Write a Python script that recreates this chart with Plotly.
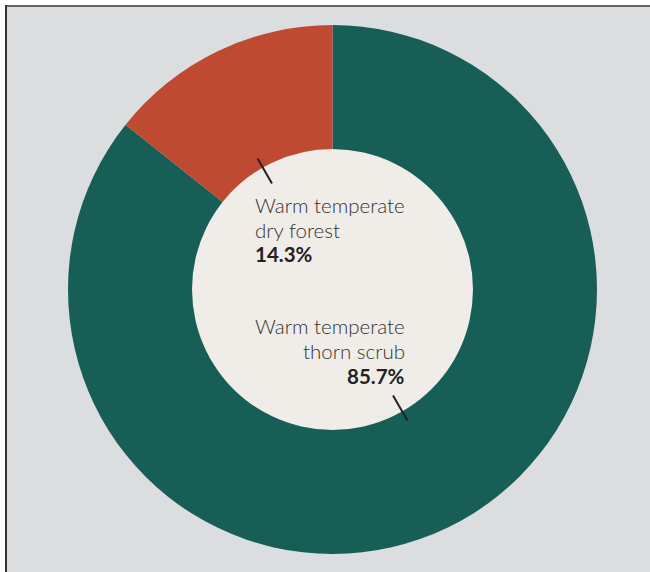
import math
import plotly.graph_objects as go

categories = ["Warm temperate dry forest", "Warm temperate thorn scrub"]
label_lines = [["Warm temperate", "dry forest"], ["Warm temperate", "thorn scrub"]]
values = [14.3, 85.7]
colors = ["#bd4a31", "#175e57"]

W, H = 650, 572
CX, CY, R = 332.5, 289.5, 264.5
HOLE = 140.5 / 264.5

def px(x):
    return x / W

def py(y):
    return 1 - y / H

fig = go.Figure()
# drawn clockwise starting at 12 o'clock with thorn scrub first, so dry forest
# sits just left of 12 o'clock as in the reference
fig.add_trace(go.Pie(
    labels=categories[::-1], values=values[::-1], sort=False, direction="clockwise",
    rotation=0, hole=HOLE, marker=dict(colors=colors[::-1], line=dict(width=0)),
    textinfo="none", hoverinfo="label+percent", showlegend=False,
    domain=dict(x=[px(CX - R), px(CX + R)], y=[py(CY + R), py(CY - R)]),
))

shapes = [
    dict(type="rect", xref="paper", yref="paper", x0=0, x1=px(5), y0=0, y1=1,
         fillcolor="white", line=dict(width=0), layer="below"),
    dict(type="rect", xref="paper", yref="paper", x0=0, x1=1, y0=py(5), y1=1,
         fillcolor="white", line=dict(width=0), layer="below"),
    dict(type="line", xref="paper", yref="paper", x0=px(5), x1=1, y0=py(6), y1=py(6),
         line=dict(color="#666466", width=2), layer="below"),
    dict(type="line", xref="paper", yref="paper", x0=px(6), x1=px(6), y0=0, y1=py(5),
         line=dict(color="#333333", width=2), layer="below"),
    dict(type="circle", xref="paper", yref="paper",
         x0=px(CX - 140.5), x1=px(CX + 140.5), y0=py(CY + 140.5), y1=py(CY - 140.5),
         fillcolor="#f0ede8", line=dict(width=0), layer="below"),
]

# leader lines at slice mid-angles (counterclockwise from 12 o'clock)
total = sum(values)
start = 0.0
for v in values:
    frac = v / total
    mid = (start + frac / 2) * 2 * math.pi + math.radians(4)
    start += frac
    dx, dy = -math.sin(mid), -math.cos(mid)
    r0, r1 = 122, 151
    shapes.append(dict(type="line", xref="paper", yref="paper",
                       x0=px(CX + dx * r0), y0=py(CY + dy * r0),
                       x1=px(CX + dx * r1), y1=py(CY + dy * r1),
                       line=dict(color="#222222", width=2), layer="above"))

annotations = []
FS = 20.5
specs = [(253, "left", [205, 229.5, 254]), (407, "right", [326, 351, 376])]
for i, (xa, anchor, ys) in enumerate(specs):
    texts = label_lines[i] + [f"<b>{values[i]}%</b>"]
    for j, (t, yy) in enumerate(zip(texts, ys)):
        annotations.append(dict(
            xref="paper", yref="paper", x=px(xa), y=py(yy), xanchor=anchor,
            yanchor="middle", align=anchor, showarrow=False, text=t,
            font=dict(family="Lato", size=FS,
                      weight="normal" if j == 2 else 300,
                      color="#222222" if j == 2 else "#333333")))

fig.update_layout(
    width=W, height=H, margin=dict(l=0, r=0, t=0, b=0),
    paper_bgcolor="#dcdddf", plot_bgcolor="rgba(0,0,0,0)",
    shapes=shapes, annotations=annotations,
    xaxis=dict(visible=False), yaxis=dict(visible=False),
)

fig.write_html("out.html")
